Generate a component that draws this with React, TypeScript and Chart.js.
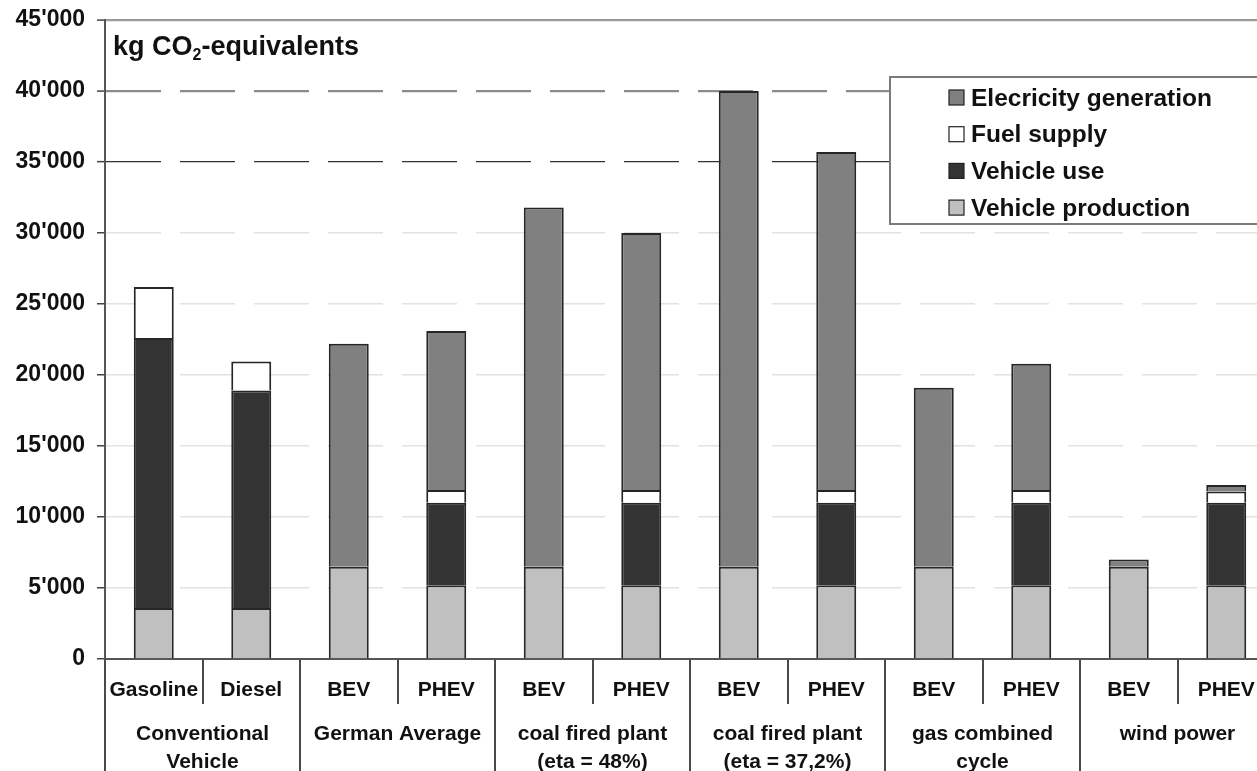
import React, { useEffect, useRef } from "react";
import { Chart, registerables } from "chart.js";
Chart.register(...registerables);

const FONT = "'Liberation Sans', Arial, Helvetica, sans-serif";

const categories = ["Gasoline", "Diesel", "BEV", "PHEV", "BEV", "PHEV", "BEV", "PHEV", "BEV", "PHEV", "BEV", "PHEV"];
const groupLabels = [
  ["Conventional", "Vehicle"],
  "German Average",
  ["coal fired plant", "(eta = 48%)"],
  ["coal fired plant", "(eta = 37,2%)"],
  ["gas combined", "cycle"],
  "wind power",
];
const groupSizes = [2, 2, 2, 2, 2, 2];

const vehicleProduction = [3600, 3600, 6500, 5200, 6500, 5200, 6500, 5200, 6500, 5200, 6500, 5200];
const vehicleUse = [19000, 15300, 0, 5800, 0, 5800, 0, 5800, 0, 5800, 0, 5800];
const fuelSupply = [3600, 2050, 0, 900, 0, 900, 0, 900, 0, 900, 0, 800];
const electricityGeneration = [0, 0, 15700, 11200, 25300, 18100, 33500, 23800, 12600, 8900, 500, 450];

const yTickLabels = ["0", "5'000", "10'000", "15'000", "20'000", "25'000", "30'000", "35'000", "40'000", "45'000"];

const seriesNames = ["Vehicle production", "Vehicle use", "Fuel supply", "Elecricity generation"];
const seriesColors = ["#c0c0c0", "#333333", "#ffffff", "#808080"];

const decorPlugin = {
  id: "decor",
  afterDraw(chart: any) {
    const { ctx, chartArea, scales } = chart;
    const x = scales.x;
    const n = categories.length;
    const w = (x.right - x.left) / n;
    ctx.save();
    // dividers below the axis
    ctx.strokeStyle = "#4a4a4a";
    ctx.lineWidth = 2;
    const groupBounds = new Set<number>();
    let acc = 0;
    groupBounds.add(0);
    for (const s of groupSizes) {
      acc += s;
      groupBounds.add(acc);
    }
    for (let i = 0; i <= n; i++) {
      const px = Math.round(x.left + i * w);
      const long = groupBounds.has(i);
      ctx.beginPath();
      ctx.moveTo(px, chartArea.bottom);
      ctx.lineTo(px, long ? chart.height : chartArea.bottom + 45);
      ctx.stroke();
    }

    // title
    ctx.fillStyle = "#111";
    ctx.textBaseline = "alphabetic";
    ctx.textAlign = "left";
    let tx = 113;
    const ty = 55;
    ctx.font = `bold 27px ${FONT}`;
    ctx.fillText("kg CO", tx, ty);
    tx += ctx.measureText("kg CO").width;
    ctx.font = `bold 16px ${FONT}`;
    ctx.fillText("2", tx, ty + 5);
    tx += ctx.measureText("2").width;
    ctx.font = `bold 27px ${FONT}`;
    ctx.fillText("-equivalents", tx, ty);

    // legend
    const lx = 890, ly = 77, lb = 224;
    ctx.fillStyle = "#fff";
    ctx.fillRect(lx, ly, chart.width - lx + 10, lb - ly);
    ctx.strokeStyle = "#7a7a7a";
    ctx.lineWidth = 2;
    ctx.strokeRect(lx, ly, chart.width - lx + 10, lb - ly);
    const ds = chart.data.datasets.slice().reverse();
    ctx.font = `bold 24.5px ${FONT}`;
    ctx.textBaseline = "middle";
    ds.forEach((d: any, i: number) => {
      const cy = 98 + i * 36.7;
      ctx.fillStyle = d.backgroundColor;
      ctx.fillRect(949, cy - 8, 15, 15);
      ctx.strokeStyle = "#222";
      ctx.lineWidth = 1.2;
      ctx.strokeRect(949, cy - 8, 15, 15);
      ctx.fillStyle = "#111";
      ctx.fillText(d.label, 971, cy + 1);
    });
    ctx.restore();
  },
};

export default function App() {
  const ref = useRef<HTMLCanvasElement>(null);
  useEffect(() => {
    if (!ref.current) return;
    const datasets = [vehicleProduction, vehicleUse, fuelSupply, electricityGeneration].map((data, i) => ({
      label: seriesNames[i],
      data,
      backgroundColor: seriesColors[i],
      borderColor: "#262626",
      borderWidth: 2,
      stack: "s",
    }));
    const chart = new Chart(ref.current, {
      type: "bar",
      data: { labels: categories, datasets },
      plugins: [decorPlugin],
      options: {
        animation: false,
        responsive: false,
        layout: { padding: { top: 20, left: 0, right: 0, bottom: 0 } },
        plugins: { legend: { display: false }, tooltip: { enabled: false }, title: { display: false } },
        datasets: { bar: { categoryPercentage: 1, barPercentage: 0.41 } },
        scales: {
          x: {
            type: "category",
            stacked: true,
            offset: true,
            position: "bottom",
            grid: { display: true, drawOnChartArea: false, drawTicks: false },
            border: { display: true, color: "#555", width: 2 },
            ticks: {
              color: "#111",
              font: { family: FONT, weight: "bold", size: 21, lineHeight: 1.2 },
              padding: 19,
              maxRotation: 0,
              autoSkip: false,
            },
            afterFit: (s: any) => {
              s.height = 52;
              s.paddingLeft = 0;
              s.paddingRight = 0;
            },
          },
          x2: {
            type: "category",
            labels: groupLabels as any,
            offset: true,
            position: "bottom",
            grid: { display: false, drawOnChartArea: false, drawTicks: false },
            border: { display: false },
            ticks: {
              color: "#111",
              font: { family: FONT, weight: "bold", size: 21, lineHeight: 1.3 },
              padding: 10,
              maxRotation: 0,
              autoSkip: false,
            },
            afterFit: (s: any) => {
              s.height = 80;
              s.paddingLeft = 0;
              s.paddingRight = 0;
            },
          },
          y: {
            stacked: true,
            min: 0,
            max: 45000,
            ticks: {
              stepSize: 5000,
              color: "#111",
              padding: 12,
              font: { family: FONT, weight: "bold", size: 23 },
              callback: (_v: any, i: number) => yTickLabels[i],
            },
            grid: {
              color: (c: any) => {
                const v = c.tick && c.tick.value;
                if (v === 45000) return "#9a9a9a";
                if (v === 40000) return "#8c8c8c";
                if (v === 35000) return "#333";
                if (v === 0) return "rgba(0,0,0,0)";
                return "#e2e2e2";
              },
              lineWidth: (c: any) => {
                const v = c.tick && c.tick.value;
                if (v === 45000 || v === 40000) return 2.2;
                if (v === 35000) return 1.3;
                return 1.5;
              },
              tickColor: "#444",
              tickWidth: 1.5,
              tickLength: 8,
              tickBorderDash: [],
            },
            border: {
              display: true,
              color: "#555",
              width: 2,
              dash: (c: any) => (c.tick && c.tick.value === 45000 ? [] : [55, 19]),
            } as any,
            afterFit: (s: any) => {
              s.width = 105;
              s.paddingTop = 0;
              s.paddingBottom = 0;
            },
          },
        },
      } as any,
    });
    return () => chart.destroy();
  }, []);
  return (
    <div style={{ position: "fixed", left: 0, top: 0, width: 1257, height: 771, overflow: "hidden", background: "#fff" }}>
      <canvas ref={ref} width={1275} height={791} style={{ display: "block" }} />
    </div>
  );
}
